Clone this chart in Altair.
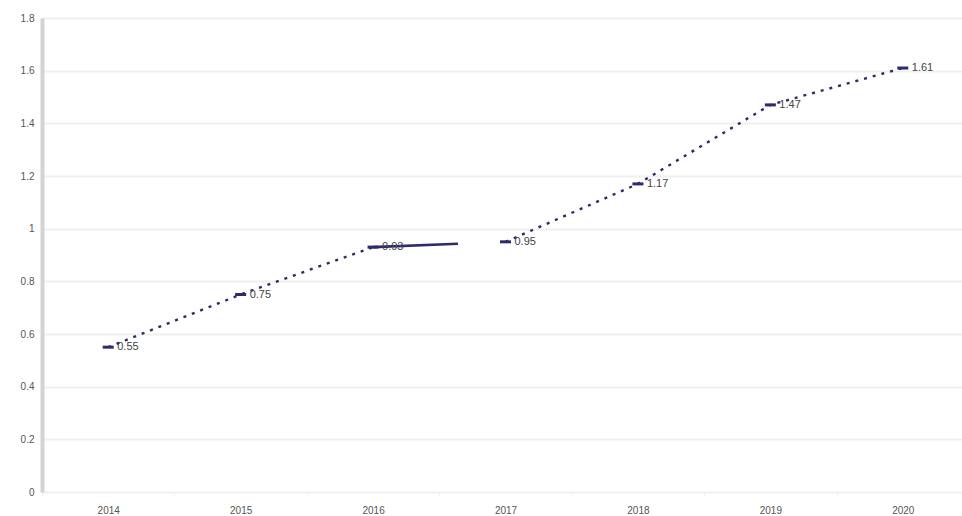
import altair as alt
import pandas as pd

years = ["2014", "2015", "2016", "2017", "2018", "2019", "2020"]
values = [0.55, 0.75, 0.93, 0.95, 1.17, 1.47, 1.61]
labels = ["0.55", "0.75", "0.93", "0.95", "1.17", "1.47", "1.61"]

NAVY = "#2c2b6b"

df = pd.DataFrame({"year": years, "value": values, "label": labels})
# line pieces: dotted before and after the flat step, solid-then-gap across it
seg_a = df.iloc[0:3].assign(seg="a")
seg_b = df.iloc[3:7].assign(seg="b")
seg_c = df.iloc[2:4].assign(seg="c")

x = alt.X(
    "year:N",
    sort=years,
    title=None,
    scale=alt.Scale(type="band", paddingInner=0, paddingOuter=0, range=[0, 927]),
    axis=alt.Axis(
        labelAngle=0,
        labelFontSize=10,
        labelColor="#555555",
        labelPadding=9,
        tickBand="extent",
        tickColor="#eeeeee",
        tickSize=4,
        domainColor="#f2f2f2",
        domainWidth=1,
        grid=False,
    ),
)
y = alt.Y(
    "value:Q",
    title=None,
    scale=alt.Scale(domain=[0, 1.8], nice=False),
    axis=alt.Axis(
        values=[0, 0.2, 0.4, 0.6, 0.8, 1, 1.2, 1.4, 1.6, 1.8],
        labelExpr="format(datum.value, '~g')",
        labelFontSize=10,
        labelColor="#555555",
        labelPadding=8,
        ticks=False,
        domainColor="#d3d3d3",
        domainWidth=4,
        gridColor="#f0f0f0",
        gridWidth=2,
    ),
)

dotted = (
    alt.Chart(pd.concat([seg_a, seg_b]))
    .mark_line(color=NAVY, strokeWidth=2.4, strokeDash=[3, 6])
    .encode(x=x, y=y, detail="seg:N")
)
step = (
    alt.Chart(seg_c)
    .mark_line(color=NAVY, strokeWidth=2.6, strokeDash=[85, 200])
    .encode(x=x, y=y)
)
markers = (
    alt.Chart(df)
    .mark_tick(color=NAVY, size=11, thickness=3, orient="horizontal", opacity=1)
    .encode(x=x, y=y)
)
text = (
    alt.Chart(df)
    .mark_text(align="left", baseline="middle", dx=9, dy=0, fontSize=11, color="#444444")
    .encode(x=x, y=y, text="label:N")
)

chart = (
    alt.layer(dotted, step, markers, text)
    .properties(
        width=920,
        height=474,
        autosize=alt.AutoSizeParams(type="none"),
        padding={"left": 42, "top": 18, "right": 0, "bottom": 24},
        background="white",
    )
    .configure_view(stroke=None)
    .configure_axis(labelFont="Liberation Sans")
    .configure_text(font="Liberation Sans")
)

chart.save("out.html", embed_options={"renderer": "svg", "actions": False})
